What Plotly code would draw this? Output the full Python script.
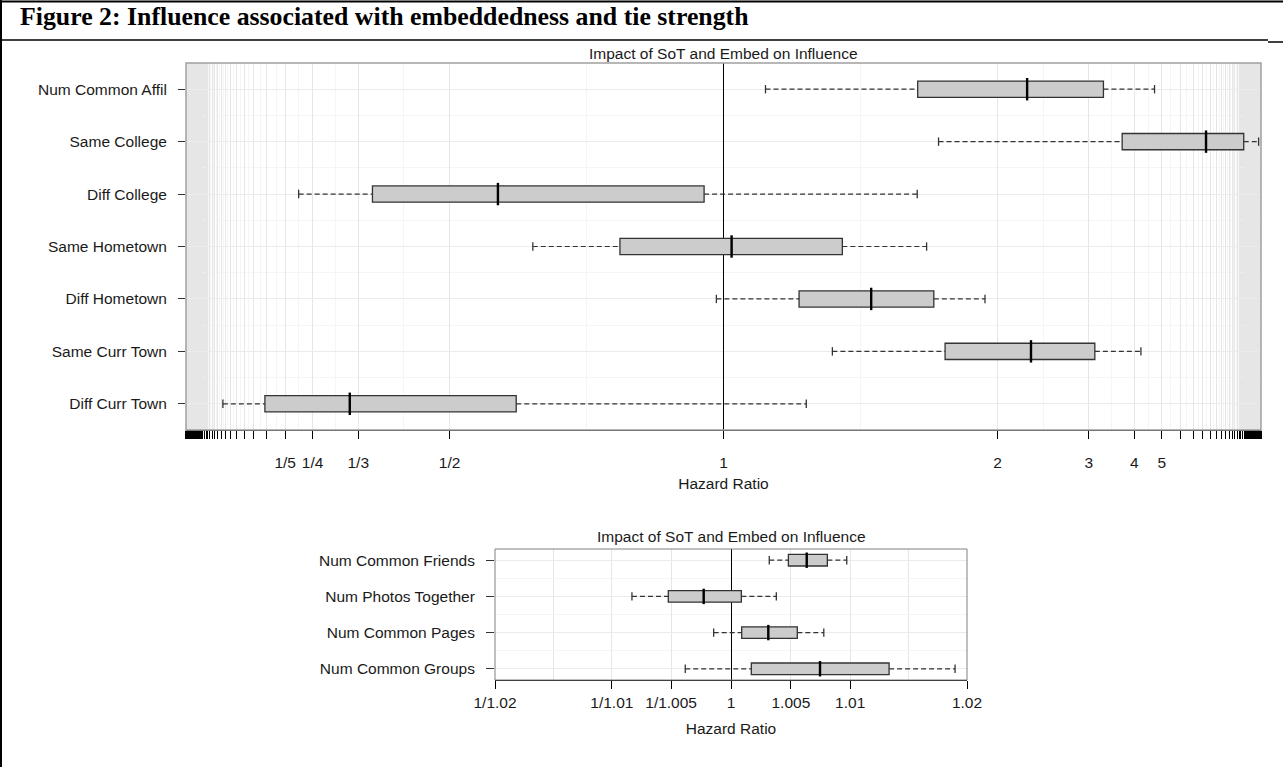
import numpy as np
import plotly.graph_objects as go

# ---------------- data (hazard ratios) ----------------
cats_top = ["Num Common Affil", "Same College", "Diff College", "Same Hometown",
            "Diff Hometown", "Same Curr Town", "Diff Curr Town"]
lo_top = [1.083, 1.646, 0.2246, 0.652, 0.987, 1.248, 0.0863]
q1_top = [1.549, 3.671, 0.3593, 0.811, 1.160, 1.679, 0.1630]
med_top = [2.243, 8.38, 0.5883, 1.015, 1.369, 2.279, 0.3179]
q3_top = [3.262, 19.8, 0.9646, 1.277, 1.623, 3.103, 0.6217]
hi_top = [4.688, 42.8, 1.547, 1.589, 1.913, 4.199, 1.178]

cats_bot = ["Num Common Friends", "Num Photos Together", "Num Common Pages", "Num Common Groups"]
lo_bot = [1.00319, 0.99177, 0.99856, 0.99620]
q1_bot = [1.00479, 0.99479, 1.00089, 1.00169]
med_bot = [1.00633, 0.99773, 1.00311, 1.00745]
q3_bot = [1.00807, 1.00086, 1.00554, 1.01331]
hi_bot = [1.00971, 1.00378, 1.00777, 1.01897]

top_tick_vals = [1/5, 1/4, 1/3, 1/2, 1, 2, 3, 4, 5]
top_tick_text = ["1/5", "1/4", "1/3", "1/2", "1", "2", "3", "4", "5"]
bot_tick_vals = [1/1.02, 1/1.01, 1/1.005, 1, 1.005, 1.01, 1.02]
bot_tick_text = ["1/1.02", "1/1.01", "1/1.005", "1", "1.005", "1.01", "1.02"]
bot_extra_grid = [1/1.015, 1.015]

main_title = "Figure 2: Influence associated with embeddedness and tie strength"
panel_title = "Impact of SoT and Embed on Influence"
x_title = "Hazard Ratio"


# symmetric hazard-ratio scale: HR<1 -> HR-1, HR>1 -> 1-1/HR
def tf(v):
    v = np.asarray(v, dtype=float)
    return np.where(v >= 1, 1 - 1 / v, v - 1)


W, H = 1283, 767
FONT = "Liberation Sans, Arial, sans-serif"
TXT = "#1a1a1a"


def py(y):
    return 1 - y / H


fig = go.Figure()


def add_panel(pos, lo, q1, med, q3, hi, xa, ya, boxw, medsize):
    fig.add_trace(go.Box(
        y=pos, q1=tf(q1), median=tf(med), q3=tf(q3),
        lowerfence=tf(q1), upperfence=tf(q3),
        orientation="h", width=boxw, fillcolor="#cccccc",
        line=dict(color="#333333", width=1.3), whiskerwidth=0,
        boxpoints=False, hoverinfo="skip", xaxis=xa, yaxis=ya, showlegend=False))
    wx, wy = [], []
    for p, a, b, c, d in zip(pos, tf(lo), tf(q1), tf(q3), tf(hi)):
        wx += [a, b, None, c, d, None]
        wy += [p, p, None, p, p, None]
    fig.add_trace(go.Scatter(x=wx, y=wy, mode="lines", xaxis=xa, yaxis=ya,
                             line=dict(color="#333333", width=1.2, dash="5px,3px"),
                             hoverinfo="skip", showlegend=False))
    fig.add_trace(go.Scatter(x=list(tf(lo)) + list(tf(hi)), y=list(pos) + list(pos),
                             mode="markers", xaxis=xa, yaxis=ya,
                             marker=dict(symbol="line-ns", size=6,
                                         line=dict(color="#333333", width=1.3)),
                             hoverinfo="skip", showlegend=False))
    fig.add_trace(go.Scatter(x=tf(med), y=pos, mode="markers", xaxis=xa, yaxis=ya,
                             marker=dict(symbol="line-ns", size=medsize,
                                         line=dict(color="#000000", width=2.4)),
                             hoverinfo="skip", showlegend=False))


top_pos = list(range(len(cats_top), 0, -1))
bot_pos = list(range(len(cats_bot), 0, -1))

add_panel(top_pos, lo_top, q1_top, med_top, q3_top, hi_top, "x", "y", 0.31, 16)
add_panel(bot_pos, lo_bot, q1_bot, med_bot, q3_bot, hi_bot, "x2", "y2", 0.32, 11)

# ---- top x axis: ticks + grid at 1/n and n for many n (dense near edges) ----
n_more = list(range(6, 90))
tick_vals_all = top_tick_vals + [1 / n for n in n_more] + n_more
tick_text_all = top_tick_text + [""] * (2 * len(n_more))

n_grid = list(range(2, 18))
maj = np.sort(np.unique(np.round(tf([1 / n for n in n_grid] + [1] + n_grid), 6)))
top_minor = list((maj[:-1] + maj[1:]) / 2)

bot_minor = list(tf(bot_extra_grid))

xr_top = [-0.981, 0.981]
xr_bot = [float(tf(1 / 1.02)), float(tf(1.02))]

axis_font = dict(family=FONT, size=15.5, color=TXT)

fig.update_layout(
    width=W, height=H, margin=dict(l=0, r=0, t=0, b=0, autoexpand=False),
    paper_bgcolor="white", plot_bgcolor="white", showlegend=False,
    xaxis=dict(domain=[186 / W, 1261 / W], anchor="y", range=xr_top, automargin=False,
               tickmode="array", tickvals=list(tf(tick_vals_all)), ticktext=tick_text_all,
               ticks="outside", ticklen=8, tickcolor="#000", tickwidth=1,
               showline=True, linecolor="#000", linewidth=1,
               showgrid=True, gridcolor="#e6e6e6", gridwidth=1,
               zeroline=True, zerolinecolor="#000", zerolinewidth=1,
               minor=dict(tickmode="array", tickvals=top_minor, showgrid=True,
                          gridcolor="#f5f5f5", ticks=""),
               tickfont=axis_font, ticklabelstandoff=10,
               title=dict(text=x_title, font=axis_font, standoff=8)),
    yaxis=dict(domain=[py(430), py(63)], anchor="x", range=[0.5, 7.5], automargin=False,
               tickmode="array", tickvals=top_pos, ticktext=cats_top,
               ticks="outside", ticklen=7, tickcolor="#333", tickwidth=1,
               showline=False, zeroline=False,
               showgrid=True, gridcolor="#ebebeb", gridwidth=1,
               minor=dict(tickmode="array", tickvals=[p + 0.5 for p in top_pos[1:]],
                          showgrid=True, gridcolor="#f5f5f5", ticks=""),
               tickfont=axis_font, ticklabelstandoff=8),
    xaxis2=dict(domain=[495 / W, 967 / W], anchor="y2", range=xr_bot, automargin=False,
                tickmode="array", tickvals=list(tf(bot_tick_vals)), ticktext=bot_tick_text,
                ticks="outside", ticklen=8, tickcolor="#000", tickwidth=1,
                showline=True, linecolor="#000", linewidth=1,
                showgrid=True, gridcolor="#e6e6e6", gridwidth=1,
                zeroline=True, zerolinecolor="#000", zerolinewidth=1,
                minor=dict(tickmode="array", tickvals=bot_minor, showgrid=True,
                           gridcolor="#e6e6e6", ticks=""),
                tickfont=axis_font, ticklabelstandoff=0,
                title=dict(text=x_title, font=axis_font, standoff=13)),
    yaxis2=dict(domain=[py(680), py(549)], anchor="x2", range=[0.69, 4.31], automargin=False,
                tickmode="array", tickvals=bot_pos, ticktext=cats_bot,
                ticks="outside", ticklen=8, tickcolor="#333", tickwidth=1,
                showline=False, zeroline=False,
                showgrid=True, gridcolor="#ebebeb", gridwidth=1,
                minor=dict(tickmode="array", tickvals=[p + 0.5 for p in bot_pos[1:]],
                           showgrid=True, gridcolor="#f5f5f5", ticks=""),
                tickfont=axis_font, ticklabelstandoff=8),
)

band = float(tf(17.5))
shapes = [
    # gray end bands of the top panel
    dict(type="rect", xref="x", yref="y domain", x0=xr_top[0], x1=-band, y0=0, y1=1,
         fillcolor="#e6e6e6", line=dict(width=0), layer="below"),
    dict(type="rect", xref="x", yref="y domain", x0=band, x1=xr_top[1], y0=0, y1=1,
         fillcolor="#e6e6e6", line=dict(width=0), layer="below"),
    # panel borders
    dict(type="rect", xref="x domain", yref="y domain", x0=0, x1=1, y0=0, y1=1,
         line=dict(color="#a0a0a0", width=1.5), layer="above"),
    dict(type="rect", xref="x2 domain", yref="y2 domain", x0=0, x1=1, y0=0, y1=1,
         line=dict(color="#808080", width=1), layer="above"),
    # document frame
    dict(type="line", xref="paper", yref="paper", x0=1 / W, x1=1 / W, y0=0, y1=1,
         line=dict(color="#000", width=2)),
    dict(type="line", xref="paper", yref="paper", x0=0, x1=1, y0=py(1.5), y1=py(1.5),
         line=dict(color="#000", width=2)),
    dict(type="line", xref="paper", yref="paper", x0=0, x1=1268 / W, y0=py(40), y1=py(40),
         line=dict(color="#000", width=1.5)),
    dict(type="line", xref="paper", yref="paper", x0=1268 / W, x1=1, y0=py(42), y1=py(42),
         line=dict(color="#000", width=1.5)),
]

annotations = [
    dict(text=main_title, xref="paper", yref="paper", x=18 / W, y=py(17),
         xanchor="left", yanchor="middle", showarrow=False,
         font=dict(family="Liberation Serif, Times New Roman, serif", size=25.8,
                   color="#000", weight="bold")),
    dict(text=panel_title, xref="x domain", yref="y domain", x=0.5, y=1,
         xanchor="center", yanchor="bottom", yshift=-1, showarrow=False, font=axis_font),
    dict(text=panel_title, xref="x2 domain", yref="y2 domain", x=0.5, y=1,
         xanchor="center", yanchor="bottom", yshift=2, showarrow=False, font=axis_font),
]
fig.update_layout(shapes=shapes, annotations=annotations)

fig.write_html("out.html",
               config={"responsive": False, "displayModeBar": False},
               post_script="document.body.style.margin='0';")
